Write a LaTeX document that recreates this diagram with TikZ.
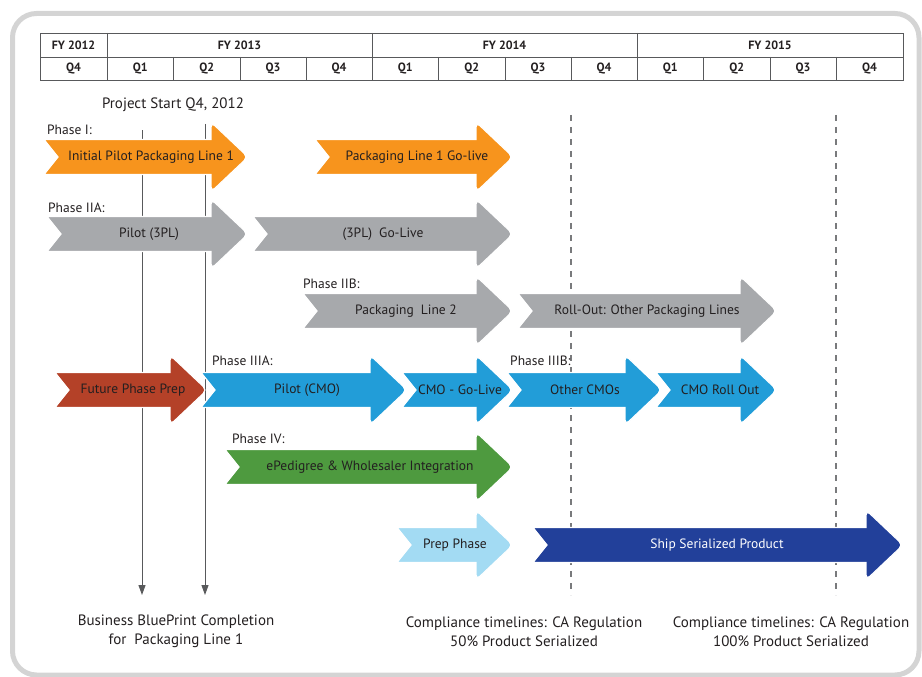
\documentclass[tikz,border=0pt]{standalone}
\usepackage{fontspec}
\setmainfont{PT Sans}
\usetikzlibrary{arrows.meta}
\definecolor{txt}{HTML}{231F20}
\definecolor{frame}{HTML}{D4D4D4}
\definecolor{lin}{HTML}{58595B}
\definecolor{corange}{HTML}{F7941D}
\definecolor{cgray}{HTML}{A7A9AC}
\definecolor{cbrown}{HTML}{B44128}
\definecolor{cblue}{HTML}{229DD8}
\definecolor{cgreen}{HTML}{4E9A3F}
\definecolor{clight}{HTML}{A3DBF3}
\definecolor{cdark}{HTML}{22409A}
\tikzset{
  chevtext/.style={font=\fontsize{13.5}{15}\selectfont, inner sep=0pt},
  phaselbl/.style={font=\fontsize{13.5}{15}\selectfont, text=txt, anchor=west, inner sep=0pt},
  hdr/.style={font=\fontsize{12}{13}\bfseries\selectfont, text=txt, inner sep=0pt},
  bottomlbl/.style={font=\fontsize{15}{19}\selectfont, text=txt, align=center, inner sep=0pt},
  gridline/.style={draw=lin, line width=0.9pt},
  milestone/.style={draw=lin, line width=1pt, -{Triangle[width=7pt,length=10pt]}},
  compline/.style={draw=lin!80, line width=1.2pt, dash pattern=on 6pt off 6pt},
}
\newcommand\chev[8]{%
  \fill[#5, draw=white, line width=1.2pt] (#2,#4-17.5) -- (#3-37,#4-17.5) [rounded corners=5pt] -- (#3-37,#4-35) -- (#3,#4) -- (#3-37,#4+35) [sharp corners] -- (#3-37,#4+17.5) -- (#2,#4+17.5) -- (#2+14,#4) -- cycle;
  \node[chevtext, text=#6] (#1) at (#8,#4) {#7};
}
\begin{document}
\begin{tikzpicture}[x=1pt,y=-1pt]
\useasboundingbox (0,0) rectangle (922,677);
% outer frame
\draw[frame, line width=5pt, rounded corners=24pt] (12.5,13.5) rectangle (919,675);
% header
\draw[gridline] (40,33) rectangle (903,80);
\draw[gridline] (40,57) -- (903,57);
\foreach \x in {107,372,637} \draw[gridline] (\x,33) -- (\x,80);
\foreach \x in {173.5,240,306,438.5,505,571,703.5,770,836} \draw[gridline] (\x,57) -- (\x,80);
\node[hdr] (fy12) at (73.5,45) {FY 2012};
\node[hdr] (fy13) at (239.5,45) {FY 2013};
\node[hdr] (fy14) at (504.5,45) {FY 2014};
\node[hdr] (fy15) at (770,45) {FY 2015};
\node[hdr] (q0) at (73.5,68.5) {Q4};
\node[hdr] (q1) at (140.25,68.5) {Q1};
\node[hdr] (q2) at (206.75,68.5) {Q2};
\node[hdr] (q3) at (273,68.5) {Q3};
\node[hdr] (q4) at (339,68.5) {Q4};
\node[hdr] (q5) at (405.25,68.5) {Q1};
\node[hdr] (q6) at (471.75,68.5) {Q2};
\node[hdr] (q7) at (538,68.5) {Q3};
\node[hdr] (q8) at (604,68.5) {Q4};
\node[hdr] (q9) at (670.25,68.5) {Q1};
\node[hdr] (q10) at (736.75,68.5) {Q2};
\node[hdr] (q11) at (803,68.5) {Q3};
\node[hdr] (q12) at (869.5,68.5) {Q4};
% project start
\node[font=\fontsize{15}{17}\selectfont, text=txt, inner sep=0pt] (pstart) at (173,105) {Project Start Q4, 2012};
% milestone lines (behind arrows)
\coordinate (m1s) at (142,130);
\coordinate (m1e) at (142,595);
\coordinate (m2s) at (205,124);
\coordinate (m2e) at (205,595);
\draw[milestone] (m1s) -- (m1e);
\draw[milestone] (m2s) -- (m2e);
\coordinate (d1s) at (571,115);
\coordinate (d1e) at (571,595);
\coordinate (d2s) at (836,115);
\coordinate (d2e) at (836,595);
\draw[compline] (d1s) -- (d1e);
\draw[compline] (d2s) -- (d2e);
% Phase labels
\node[phaselbl] (ph1) at (47,130) {Phase I:};
\node[phaselbl] (ph2a) at (48,208) {Phase IIA:};
\node[phaselbl] (ph2b) at (303,284) {Phase IIB:};
\node[phaselbl] (ph3a) at (212,361) {Phase IIIA:};
\node[phaselbl] (ph3b) at (510,361) {Phase IIIB:};
\node[phaselbl] (ph4) at (232,439) {Phase IV:};
% arrows
\chev{a1}{44}{248}{157}{corange}{txt}{Initial Pilot Packaging Line 1}{151}
\chev{a2}{315}{513}{157}{corange}{txt}{Packaging Line 1 Go-live}{417}
\chev{b1}{47}{248}{234}{cgray}{txt}{Pilot (3PL)}{149}
\chev{b2}{253}{513}{234}{cgray}{txt}{(3PL)\ \ Go-Live}{383}
\chev{c1}{303}{513}{311}{cgray}{txt}{Packaging\ \ Line 2}{406}
\chev{c2}{518}{777}{311}{cgray}{txt}{Roll-Out: Other Packaging Lines}{647}
\chev{d0}{55}{207}{390}{cbrown}{txt}{Future Phase Prep}{133}
\chev{d1}{201}{407}{390}{cblue}{txt}{Pilot (CMO)}{307}
\chev{d2}{402}{513}{390}{cblue}{txt}{CMO - Go-Live}{460}
\chev{d3}{507}{662}{390}{cblue}{txt}{Other CMOs}{585}
\chev{d4}{656}{777}{390}{cblue}{txt}{CMO Roll Out}{720}
\chev{e1}{225}{513}{467}{cgreen}{txt}{ePedigree \& Wholesaler Integration}{370}
\chev{f1}{397}{513}{545}{clight}{txt}{Prep Phase}{455}
\chev{f2}{533}{903}{545}{cdark}{white}{Ship Serialized Product}{717}
% bottom labels
\node[bottomlbl] (bl1) at (176,631.5) {Business BluePrint Completion\\for\ \ Packaging Line 1};
\node[bottomlbl] (bl2) at (524,631.5) {Compliance timelines: CA Regulation\\50\% Product Serialized};
\node[bottomlbl] (bl3) at (791,631.5) {Compliance timelines: CA Regulation\\100\% Product Serialized};
\end{tikzpicture}
\end{document}
